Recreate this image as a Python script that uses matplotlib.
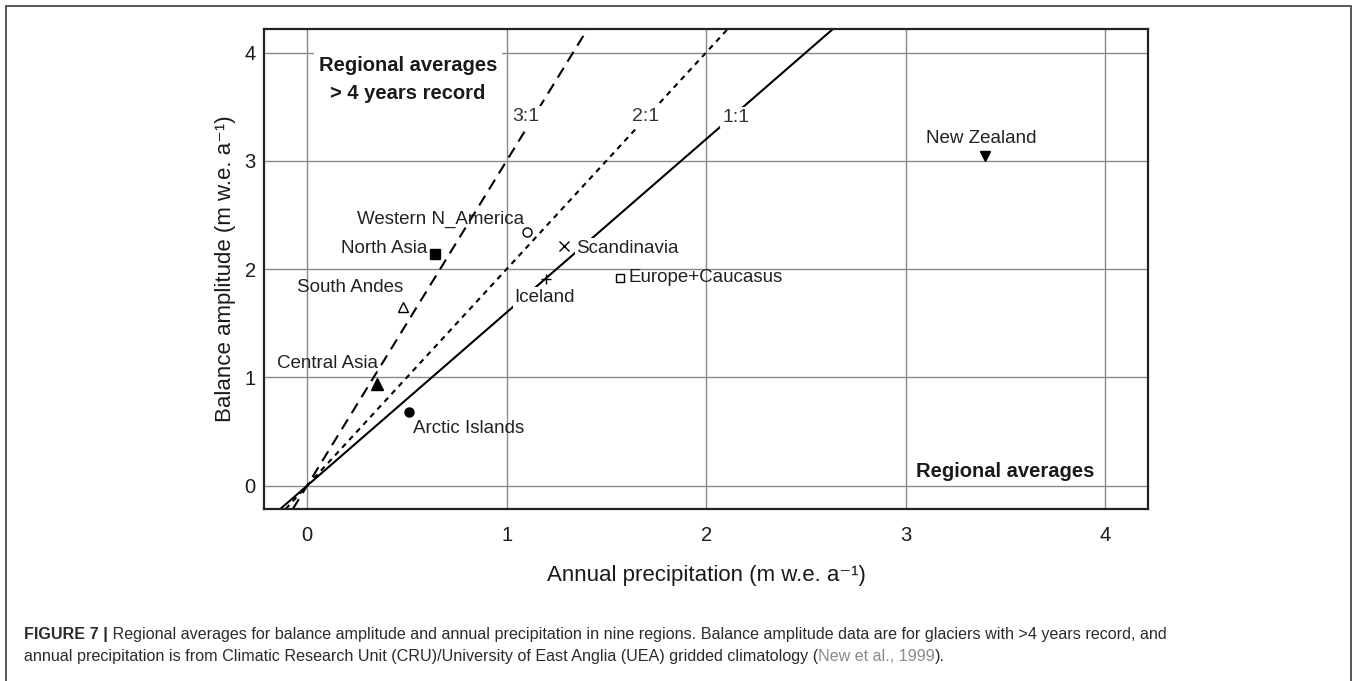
import matplotlib
matplotlib.use("Agg")
import matplotlib.pyplot as plt
from matplotlib.patches import Rectangle

# ---------------- data ----------------
regions = ["Western N_America", "North Asia", "South Andes", "Central Asia",
           "Arctic Islands", "Scandinavia", "Iceland", "Europe+Caucasus",
           "New Zealand"]
precipitation = [1.10, 0.64, 0.48, 0.35, 0.51, 1.29, 1.20, 1.57, 3.40]
amplitude = [2.34, 2.14, 1.65, 0.94, 0.68, 2.21, 1.91, 1.92, 3.04]

ratio_labels = ["3:1", "2:1", "1:1"]
ratio_slopes = [3.0, 2.0, 1.6]

x_ticks = [0, 1, 2, 3, 4]
y_ticks = [0, 1, 2, 3, 4]

# ---------------- styles / layout ----------------
marker_styles = [("o", "none", 6.5), ("s", "black", 7), ("^", "none", 7),
                 ("^", "black", 8), ("o", "black", 6.5), ("x", "black", 7),
                 ("+", "black", 7), ("s", "none", 6), ("v", "black", 6.5)]
label_pos = [(0.25, 2.46, False), (0.17, 2.19, False), (-0.05, 1.83, False),
             (-0.15, 1.13, False), (0.53, 0.53, False), (1.35, 2.19, True),
             (1.04, 1.74, True), (1.61, 1.92, False), (3.10, 3.21, False)]
ratio_styles = [(0, (5.5, 3.5)), (0, (2.6, 2.4)), "-"]
ratio_label_pos = [(1.03, 3.41), (1.63, 3.41), (2.08, 3.40)]

FONT = ["Liberation Sans Narrow", "Liberation Sans", "DejaVu Sans"]
REG = ["Liberation Sans", "DejaVu Sans"]
TXT = "#1a1a1a"

W, H = 1357, 681
fig = plt.figure(figsize=(W / 100, H / 100), dpi=100)
fig.patch.set_facecolor("white")

# outer frame
fig.patches.append(Rectangle((6 / W, -0.01), (1351 - 6) / W, 1.01 - 6 / H,
                             transform=fig.transFigure, fill=False,
                             edgecolor="#4a4a4a", linewidth=1.3, zorder=0))

ax = fig.add_axes([264 / W, 1 - 509 / H, (1148 - 264) / W, (509 - 28.7) / H])
ax.set_xlim(-0.216, 4.215)
ax.set_ylim(-0.215, 4.22)
ax.set_xticks(x_ticks)
ax.set_yticks(y_ticks)
ax.tick_params(length=0, labelsize=14.5, colors=TXT)
ax.tick_params(axis="x", pad=12)
ax.tick_params(axis="y", pad=6)
for lab in ax.get_xticklabels() + ax.get_yticklabels():
    lab.set_family(FONT)
ax.grid(True, color="#8a8a8a", linewidth=1.0)
ax.set_axisbelow(True)
for sp in ax.spines.values():
    sp.set_color("#222222")
    sp.set_linewidth(1.6)

# ratio lines
for slope, ls in zip(ratio_slopes, ratio_styles):
    ax.axline((0, 0), slope=slope, color="black", linestyle=ls,
              linewidth=1.5, zorder=2)
for lab, (lx, ly) in zip(ratio_labels, ratio_label_pos):
    ax.text(lx, ly, lab, family=FONT, fontsize=14, color="#333333",
            ha="left", va="center", zorder=3,
            bbox=dict(boxstyle="square,pad=0.1", fc="white", ec="none"))

# points
for x, y, (m, fc, ms) in zip(precipitation, amplitude, marker_styles):
    ax.plot([x], [y], marker=m, markersize=ms, markerfacecolor=fc,
            markeredgecolor="black", markeredgewidth=1.0, linestyle="none",
            zorder=5)

# point labels
for name, (lx, ly, boxed) in zip(regions, label_pos):
    kw = {}
    if boxed:
        kw["bbox"] = dict(boxstyle="square,pad=0.1", fc="white", ec="none")
    ax.text(lx, ly, name, family=FONT, fontsize=13.5, color="#222222",
            ha="left", va="center", zorder=4, **kw)

# panel annotations
ax.text(0.505, 3.755, "Regional averages\n> 4 years record", family=FONT,
        fontsize=14.5, fontweight="bold", color=TXT, ha="center",
        va="center", linespacing=1.6, zorder=4,
        bbox=dict(boxstyle="square,pad=0.25", fc="white", ec="none"))
ax.text(3.5, 0.13, "Regional averages", family=FONT, fontsize=14.5,
        fontweight="bold", color=TXT, ha="center", va="center", zorder=4)

ax.set_xlabel("Annual precipitation (m w.e. a\u207b\u00b9)",
              family=FONT, fontsize=16, color=TXT, labelpad=15)
ax.set_ylabel("Balance amplitude (m w.e. a\u207b\u00b9)",
              family=FONT, fontsize=16, color=TXT, labelpad=6)

# caption
fig.canvas.draw()
renderer = fig.canvas.get_renderer()


def seq_text(x_px, y_px, parts):
    x = x_px
    for txt, weight, color in parts:
        t = fig.text(x / W, 1 - y_px / H, txt, family=REG, fontsize=11.6,
                     fontweight=weight, color=color, ha="left",
                     va="baseline")
        bb = t.get_window_extent(renderer=renderer)
        x += bb.width


cap_col = "#2b2b2b"
seq_text(24, 639, [("FIGURE 7 |", "bold", cap_col),
                   (" Regional averages for balance amplitude and annual "
                    "precipitation in nine regions. Balance amplitude data are "
                    "for glaciers with >4 years record, and", "normal", cap_col)])
seq_text(24, 661, [("annual precipitation is from Climatic Research Unit (CRU)/"
                    "University of East Anglia (UEA) gridded climatology (",
                    "normal", cap_col),
                   ("New et al., 1999", "normal", "#8a8a8a"),
                   (").", "normal", cap_col)])

fig.savefig("out.png", dpi=100)
